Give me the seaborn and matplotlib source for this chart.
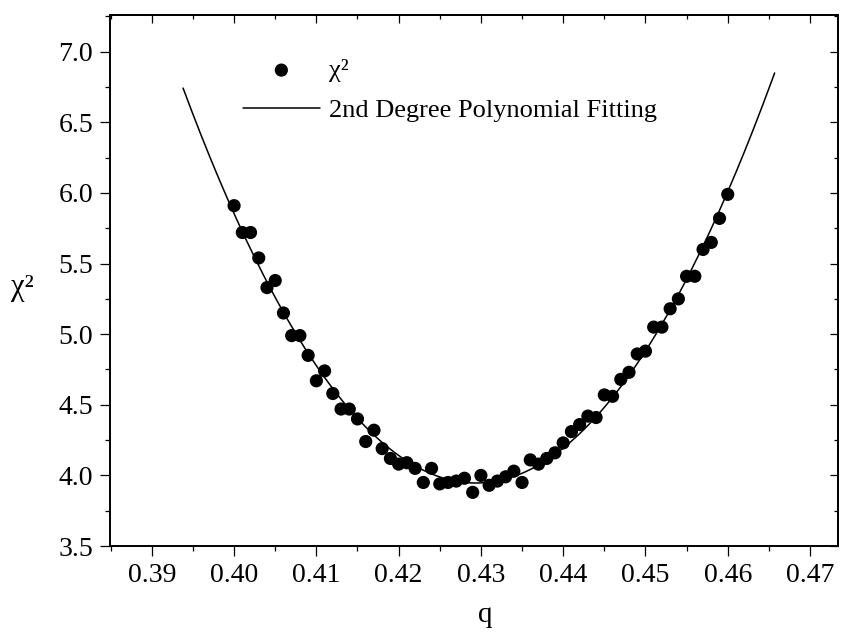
import numpy as np
import pandas as pd
from matplotlib import pyplot as plt
from matplotlib.ticker import MultipleLocator, FormatStrFormatter
import seaborn as sns

#   Data
q_values = [0.400, 0.401, 0.402, 0.403, 0.404, 0.405, 0.406, 0.407, 0.408, 0.409,
            0.410, 0.411, 0.412, 0.413, 0.414, 0.415, 0.416, 0.417, 0.418, 0.419,
            0.420, 0.421, 0.422, 0.423, 0.424, 0.425, 0.426, 0.427, 0.428, 0.429,
            0.430, 0.431, 0.432, 0.433, 0.434, 0.435, 0.436, 0.437, 0.438, 0.439,
            0.440, 0.441, 0.442, 0.443, 0.444, 0.445, 0.446, 0.447, 0.448, 0.449,
            0.450, 0.451, 0.452, 0.453, 0.454, 0.455, 0.456, 0.457, 0.458, 0.459,
            0.460]
chi2_values = [5.91, 5.72, 5.72, 5.54, 5.33, 5.38, 5.15, 4.99, 4.99, 4.85,
               4.67, 4.74, 4.58, 4.47, 4.47, 4.40, 4.24, 4.32, 4.19, 4.12,
               4.08, 4.09, 4.05, 3.95, 4.05, 3.94, 3.95, 3.96, 3.98, 3.88,
               4.00, 3.93, 3.96, 3.99, 4.03, 3.95, 4.11, 4.08, 4.12, 4.16,
               4.23, 4.31, 4.36, 4.42, 4.41, 4.57, 4.56, 4.68, 4.73, 4.86,
               4.88, 5.05, 5.05, 5.18, 5.25, 5.41, 5.41, 5.60, 5.65, 5.82,
               5.99]
fit_range = [0.3938, 0.4657]   # q span of the drawn fit curve
x_ticks = [0.39, 0.40, 0.41, 0.42, 0.43, 0.44, 0.45, 0.46, 0.47]
y_ticks = [3.5, 4.0, 4.5, 5.0, 5.5, 6.0, 6.5, 7.0]

data = pd.DataFrame({'q': q_values, 'chi2': chi2_values})

#   2nd degree polynomial fit of the points
coef = np.polyfit(data.q, data.chi2, 2)
q_fit = np.linspace(fit_range[0], fit_range[1], 200)
fit = pd.DataFrame({'q': q_fit, 'chi2': np.polyval(coef, q_fit)})

sns.set_theme(style='ticks')
plt.rcParams['font.family'] = ['Liberation Serif', 'DejaVu Serif']
plt.rcParams['axes.linewidth'] = 1.4
for key in ['text.color', 'axes.labelcolor', 'xtick.color', 'ytick.color', 'axes.edgecolor']:
    plt.rcParams[key] = 'black'

fig = plt.figure(figsize=(8.45, 6.39), dpi=100)
ax = fig.add_axes([0.130, 0.1455, 0.8617, 0.831])

sns.scatterplot(x='q', y='chi2', data=data, ax=ax, color='black', s=90,
                edgecolor='none', label='χ²', zorder=3)
sns.lineplot(x='q', y='chi2', data=fit, ax=ax, color='black', linewidth=1.1,
             label='2nd Degree Polynomial Fitting', sort=False)

ax.set_xlim(0.3849, 0.4734)
ax.set_ylim(3.5, 7.26)
ax.set_xticks(x_ticks)
ax.set_yticks(y_ticks)
ax.xaxis.set_minor_locator(MultipleLocator(0.005))
ax.yaxis.set_minor_locator(MultipleLocator(0.25))
ax.xaxis.set_major_formatter(FormatStrFormatter('%.2f'))
ax.yaxis.set_major_formatter(FormatStrFormatter('%.1f'))
ax.tick_params(which='major', direction='out', length=7, width=0.9,
               labelsize=20, pad=5)
ax.tick_params(which='minor', direction='out', length=3.5, width=0.9)

#   Inward ticks on the top and right frame, no labels
top = ax.secondary_xaxis('top')
top.set_xticks(x_ticks)
top.xaxis.set_minor_locator(MultipleLocator(0.005))
top.tick_params(which='major', direction='in', length=6, width=0.9, labeltop=False)
top.tick_params(which='minor', direction='in', length=3, width=0.9)
right = ax.secondary_yaxis('right')
right.set_yticks(y_ticks)
right.yaxis.set_minor_locator(MultipleLocator(0.25))
right.tick_params(which='major', direction='in', length=6, width=0.9, labelright=False)
right.tick_params(which='minor', direction='in', length=3, width=0.9)
for s in ['top', 'right']:
    ax.spines[s].set_visible(True)

ax.set_xlabel('q', fontsize=21)
ax.xaxis.set_label_coords(0.515, -0.105)
ax.set_ylabel('χ²', fontsize=22, rotation=0)
ax.yaxis.set_label_coords(-0.12, 0.46)

ax.legend(loc='upper left', bbox_to_anchor=(0.183, 0.918), frameon=False,
          fontsize=19, handlelength=2.9, handletextpad=0.35, labelspacing=0.62,
          borderpad=0, borderaxespad=0)

plt.savefig('out.png', dpi=100)
